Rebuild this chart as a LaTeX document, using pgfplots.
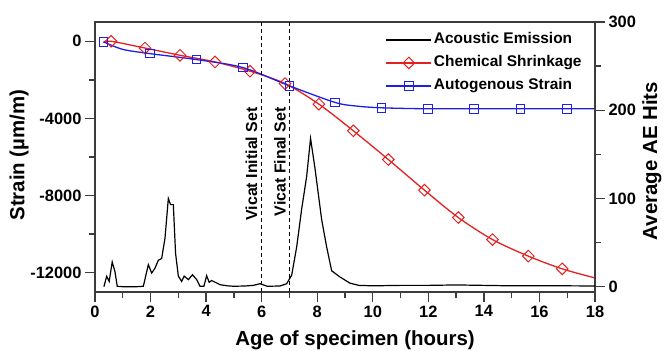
\documentclass[border=0pt]{standalone}
\usepackage{fontspec}
\setmainfont{Liberation Sans}
\usepackage{pgfplots}
\pgfplotsset{compat=1.18}
\definecolor{cred}{RGB}{228,32,32}
\definecolor{cblue}{RGB}{32,32,228}
\definecolor{axgray}{RGB}{60,60,60}
\begin{document}
\begin{tikzpicture}
\path[use as bounding box] (-95bp,-59bp) rectangle (570bp,292bp);
\begin{axis}[
 width=500bp, height=270bp, scale only axis,
 xmin=0, xmax=18, ymin=-13000, ymax=1000,
 scaled y ticks=false, scaled x ticks=false,
 xtick={0,2,...,18}, xticklabels={\textbf{0},\textbf{2},\textbf{4},\textbf{6},\textbf{8},\textbf{10},\textbf{12},\textbf{14},\textbf{16},\textbf{18}},
 minor xtick={1,3,...,17},
 ytick={-12000,-8000,-4000,0}, yticklabels={\textbf{-12000},\textbf{-8000},\textbf{-4000},\textbf{0}},
 minor ytick={-10000,-6000,-2000},
 tick pos=left, tick align=outside,
 major tick length=10bp, minor tick length=6bp,
 axis line style={axgray, line width=1.3bp},
 tick style={axgray, line width=1.3bp},
 ticklabel style={font=\fontsize{16.5}{16.5}\selectfont\bfseries},
 xlabel={Age of specimen (hours)},
 ylabel={Strain (\textmu m/m)},
 label style={font=\fontsize{20.5}{20.5}\selectfont\bfseries},
 xlabel style={at={(axis description cs:0.52,-0.178)}, anchor=center},
 ylabel style={at={(axis description cs:-0.152,0.507)}, anchor=center, rotate=0},
]
% Chemical shrinkage
\addplot[cred, line width=1.3bp, smooth] coordinates {
(0.3,-60) (0.58,0) (1.8,-350) (3.06,-725) (4.32,-1070) (5.58,-1550) (6.84,-2190)
(8.06,-3260) (9.3,-4640) (10.56,-6130) (11.86,-7720) (13.08,-9140) (14.31,-10280)
(15.6,-11140) (16.82,-11800) (18,-12270)};
\addplot[cred, only marks, mark=square, mark size=4.1bp, mark options={rotate=45, line width=1bp, fill=none}] coordinates {
(0.58,0) (1.8,-350) (3.06,-725) (4.32,-1070) (5.58,-1550) (6.84,-2190)
(8.06,-3260) (9.3,-4640) (10.56,-6130) (11.86,-7720) (13.08,-9140) (14.31,-10280)
(15.6,-11140) (16.82,-11800)};
% Autogenous strain
\addplot[cblue, line width=1.3bp, smooth] coordinates {
(0.31,-30) (1.0,-420) (1.98,-640) (3.66,-950) (5.32,-1360) (7.0,-2310) (8.64,-3170)
(9.42,-3360) (10.32,-3450) (11.98,-3500) (13.65,-3500) (15.32,-3500) (17.0,-3500) (18,-3500)};
\addplot[cblue, only marks, mark=square, mark size=4.3bp, mark options={line width=1bp, fill=none}] coordinates {
(0.31,-30) (1.98,-640) (3.66,-950) (5.32,-1360) (7.0,-2310) (8.64,-3170)
(10.32,-3450) (11.98,-3500) (13.65,-3500) (15.32,-3500) (17.0,-3500)};
% Vicat lines
\draw[black, line width=1.1bp, dash pattern=on 4bp off 3bp] (axis cs:6,-13000) -- (axis cs:6,1000);
\draw[black, line width=1.1bp, dash pattern=on 4bp off 3bp] (axis cs:7,-13000) -- (axis cs:7,1000);
\node[rotate=90, anchor=east, inner sep=0pt, font=\fontsize{16}{16}\selectfont\bfseries] at (axis cs:5.63,-3420) {Vicat Initial Set};
\node[rotate=90, anchor=east, inner sep=0pt, font=\fontsize{16}{16}\selectfont\bfseries] at (axis cs:6.66,-3420) {Vicat Final Set};
\end{axis}
\begin{axis}[
 width=500bp, height=270bp, scale only axis,
 xmin=0, xmax=18, ymin=-6, ymax=300,
 axis y line*=right, axis x line=none,
 ytick={0,100,200,300}, yticklabels={\textbf{0},\textbf{100},\textbf{200},\textbf{300}},
 minor ytick={50,150,250},
 tick align=outside,
 major tick length=10bp, minor tick length=6bp,
 axis line style={axgray, line width=1.3bp},
 tick style={axgray, line width=1.3bp},
 ticklabel style={font=\fontsize{16.5}{16.5}\selectfont\bfseries},
 ylabel={Average AE Hits},
 label style={font=\fontsize{20.5}{20.5}\selectfont\bfseries},
 ylabel style={at={(axis description cs:1.114,0.485)}, anchor=center, rotate=0},
 legend style={at={(axis description cs:0.575,0.975)}, anchor=north west, draw=none, fill=none,
   font=\fontsize{15.5}{15.5}\selectfont\bfseries, row sep=5bp,
   nodes={inner sep=2bp, text height=11bp, text depth=3bp}},
 legend cell align=left,
 legend image code/.code={\draw[mark repeat=2,mark phase=2,#1] plot coordinates {(0bp,0bp)(22.5bp,0bp)(45bp,0bp)};},
]
\addplot[black, line width=1.2bp] coordinates {
(0.32,0) (0.42,11.7) (0.51,6) (0.62,28) (0.72,17) (0.80,0.5) (1.0,0) (1.5,0) (1.74,0.5)
(1.92,25) (2.04,15.5) (2.16,21) (2.28,30) (2.4,32) (2.52,55) (2.64,100) (2.72,93) (2.82,93)
(2.9,38) (3.0,12) (3.12,6) (3.21,12) (3.36,8) (3.51,13.5) (3.66,8) (3.78,0.5) (3.92,0.5)
(4.02,12.5) (4.11,5) (4.2,7) (4.5,2.3) (4.76,1) (5.0,0.5) (5.4,0.8) (5.7,1.5) (5.94,3.4)
(6.2,0.5) (6.66,0.8) (6.9,3.4) (7.08,13) (7.26,45) (7.44,88) (7.62,125) (7.76,168)
(7.92,134) (8.16,76) (8.34,45) (8.52,18) (8.82,11) (9.18,4) (9.5,1.5) (10,1) (11,1.5)
(12,1.5) (13,2) (14,1.5) (15,1) (16,1) (17,1) (18,0.8)};
\addlegendentry{Acoustic Emission}
\addlegendimage{cred, line width=1.3bp, mark=square, mark size=4.1bp, mark options={rotate=45, line width=1bp, fill=none}}
\addlegendentry{Chemical Shrinkage}
\addlegendimage{cblue, line width=1.3bp, mark=square, mark size=4.3bp, mark options={line width=1bp, fill=none}}
\addlegendentry{Autogenous Strain}
\end{axis}
\end{tikzpicture}
\end{document}
